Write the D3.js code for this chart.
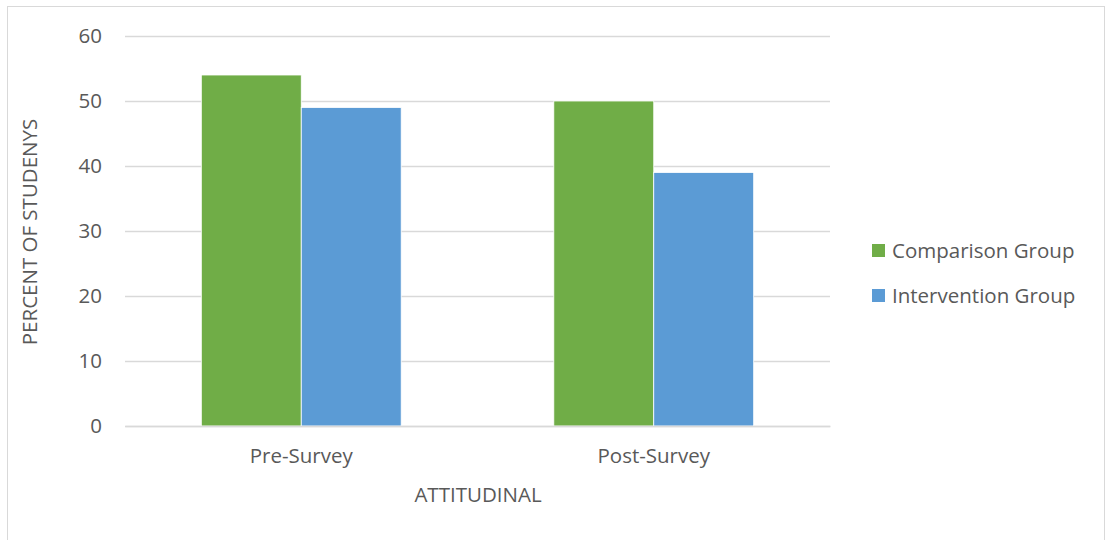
<!DOCTYPE html>
<html>
<head>
<meta charset="utf-8">
<script src="https://cdn.jsdelivr.net/npm/d3@7"></script>
<style>
  body { margin: 0; background: #fff; }
  svg text { font-family: "Open Sans", "Noto Sans", sans-serif; fill: #595959; }
</style>
</head>
<body>
<svg width="1106" height="540"></svg>
<script>
var categories = ["Pre-Survey", "Post-Survey"];
var seriesNames = ["Comparison Group", "Intervention Group"];
var comparison = [54, 50];
var intervention = [49, 39];
var yTicks = [0, 10, 20, 30, 40, 50, 60];

var svg = d3.select("svg"),
    margin = {top: 36, left: 125},
    width = 705,
    height = 390;

// chart frame
svg.append("rect")
    .attr("x", 7.5).attr("y", 6.5)
    .attr("width", 1097).attr("height", 540)
    .attr("fill", "none")
    .attr("stroke", "#d9d9d9");

var g = svg.append("g").attr("transform", "translate(" + margin.left + "," + margin.top + ")");

var x0 = d3.scaleBand().domain(categories).range([0, width]).paddingInner(0.433).paddingOuter(0.2165);
var x1 = d3.scaleBand().domain(seriesNames).range([0, x0.bandwidth()]);
var y = d3.scaleLinear().domain([0, 60]).range([height, 0]);
var color = d3.scaleOrdinal().domain(seriesNames).range(["#70ad47", "#5b9bd5"]);

var data = categories.map(function(c, i) {
  return {cat: c, values: [{key: seriesNames[0], v: comparison[i]}, {key: seriesNames[1], v: intervention[i]}]};
});

// gridlines
g.append("g")
    .call(d3.axisLeft(y).tickValues(yTicks).tickSize(-width).tickFormat(""))
    .call(function(s) { s.select(".domain").remove(); })
    .selectAll("line").attr("stroke", "#d9d9d9").attr("stroke-width", 1.3);

// y labels
g.append("g")
    .call(d3.axisLeft(y).tickValues(yTicks).tickSize(0).tickPadding(23))
    .call(function(s) { s.select(".domain").remove(); })
    .selectAll("text").style("font-size", "20.5px");

// bars
g.selectAll(".grp")
  .data(data)
  .enter().append("g")
    .attr("class", "grp")
    .attr("transform", function(d) { return "translate(" + x0(d.cat) + ",0)"; })
  .selectAll("rect")
  .data(function(d) { return d.values; })
  .enter().append("rect")
    .attr("x", function(d) { return x1(d.key); })
    .attr("y", function(d) { return y(d.v); })
    .attr("width", x1.bandwidth())
    .attr("height", function(d) { return height - y(d.v); })
    .attr("fill", function(d) { return color(d.key); })
    .attr("stroke", "#fff")
    .attr("stroke-width", 0.8);

// x axis
g.append("g")
    .attr("transform", "translate(0," + height + ")")
    .call(d3.axisBottom(x0).tickSize(0).tickPadding(22))
    .call(function(s) { s.select(".domain").attr("stroke", "#d9d9d9").attr("stroke-width", 1.3); })
    .selectAll("text").style("font-size", "20.5px");

// axis titles
svg.append("text")
    .attr("transform", "translate(37,232) rotate(-90)")
    .attr("text-anchor", "middle")
    .style("font-size", "20.5px")
    .text("PERCENT OF STUDENYS");

svg.append("text")
    .attr("x", 478).attr("y", 502)
    .attr("text-anchor", "middle")
    .style("font-size", "20.5px")
    .text("ATTITUDINAL");

// legend
var legend = svg.selectAll(".legend")
  .data(seriesNames)
  .enter().append("g")
    .attr("class", "legend")
    .attr("transform", function(d, i) { return "translate(872," + (244 + i * 45) + ")"; });

legend.append("rect")
    .attr("width", 13).attr("height", 13)
    .attr("fill", function(d) { return color(d); });

legend.append("text")
    .attr("x", 20).attr("y", 7)
    .attr("dy", "0.35em")
    .style("font-size", "20.5px")
    .text(function(d) { return d; });
</script>
</body>
</html>
